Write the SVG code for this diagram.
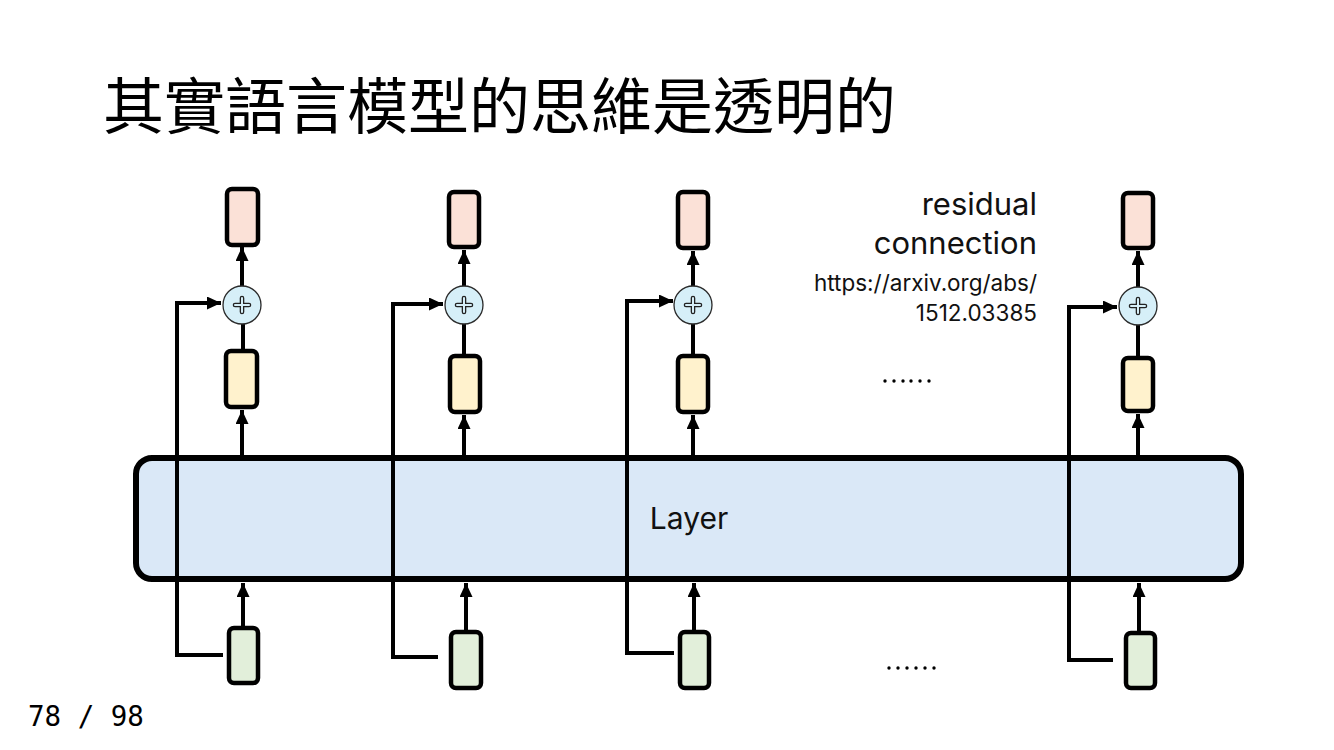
<svg xmlns="http://www.w3.org/2000/svg" width="1334" height="750" viewBox="0 0 1334 750">
<style>
.box{stroke:#000;stroke-width:4.5}
.out{fill:#fbe1d7}
.mid{fill:#fff2cd}
.in{fill:#e2efda}
.plus{fill:#d6eff8;stroke:#2a2a2a;stroke-width:1.3}
.pl1{stroke:#222;stroke-width:4.6;fill:none;stroke-linecap:round}
.pl2{stroke:#d6eff8;stroke-width:2;fill:none;stroke-linecap:round}
.c{stroke:#000;stroke-width:4;fill:none}
.t{font-family:Inter,"Noto Sans",sans-serif;fill:#111}
</style>
<defs>
<marker id="ah" markerUnits="userSpaceOnUse" markerWidth="14" markerHeight="13" refX="14" refY="6.5" orient="auto">
<path d="M0,0 L14,6.5 L0,13 z" fill="#000"/>
</marker>
</defs>
<rect width="1334" height="750" fill="#fff"/>
<text x="103" y="129" font-family="'Noto Sans CJK TC','Noto Sans CJK SC',sans-serif" font-size="61" fill="#000">其實語言模型的思維是透明的</text>

<g id="layer">
<rect x="136" y="458" width="1105" height="121" rx="16" fill="#dae8f7" stroke="#000" stroke-width="6"/>
<text class="t" x="689" y="529" font-size="30" text-anchor="middle">Layer</text>
</g>

<g id="connectors">
<!-- column 1 -->
<path class="c" d="M223,655 H177 V303 H221" marker-end="url(#ah)"/>
<line class="c" x1="242" y1="455" x2="242" y2="410" marker-end="url(#ah)"/>
<line class="c" x1="243" y1="626" x2="243" y2="583" marker-end="url(#ah)"/>
<line class="c" x1="243" y1="349" x2="243" y2="324"/>
<line class="c" x1="242" y1="286" x2="242" y2="247" marker-end="url(#ah)"/>
<!-- column 2 -->
<path class="c" d="M438,657 H393 V304 H443" marker-end="url(#ah)"/>
<line class="c" x1="464" y1="455" x2="464" y2="415" marker-end="url(#ah)"/>
<line class="c" x1="466" y1="630" x2="466" y2="583" marker-end="url(#ah)"/>
<line class="c" x1="464" y1="354" x2="464" y2="324"/>
<line class="c" x1="464" y1="286" x2="464" y2="250" marker-end="url(#ah)"/>
<!-- column 3 -->
<path class="c" d="M674,653 H627 V301 H673" marker-end="url(#ah)"/>
<line class="c" x1="693" y1="455" x2="693" y2="415" marker-end="url(#ah)"/>
<line class="c" x1="694" y1="630" x2="694" y2="583" marker-end="url(#ah)"/>
<line class="c" x1="693" y1="354" x2="693" y2="324"/>
<line class="c" x1="693" y1="286" x2="693" y2="251" marker-end="url(#ah)"/>
<!-- column 4 -->
<path class="c" d="M1113,660 H1069 V307 H1117" marker-end="url(#ah)"/>
<line class="c" x1="1138" y1="455" x2="1138" y2="414" marker-end="url(#ah)"/>
<line class="c" x1="1139" y1="631" x2="1139" y2="583" marker-end="url(#ah)"/>
<line class="c" x1="1138" y1="356" x2="1138" y2="325"/>
<line class="c" x1="1138" y1="287" x2="1138" y2="251" marker-end="url(#ah)"/>
</g>

<g id="col1">
<rect class="box out" x="227" y="189" width="31" height="56" rx="5"/>
<rect class="box mid" x="226" y="351" width="31" height="56" rx="5"/>
<rect class="box in" x="229" y="628" width="29" height="55" rx="5"/>
<circle class="plus" cx="242" cy="305" r="19"/>
<path class="pl1" d="M235,305 H249 M242,298 V312"/>
<path class="pl2" d="M235,305 H249 M242,298 V312"/>
</g>
<g id="col2">
<rect class="box out" x="449" y="192" width="30" height="55" rx="5"/>
<rect class="box mid" x="450" y="356" width="30" height="56" rx="5"/>
<rect class="box in" x="451" y="632" width="30" height="56" rx="5"/>
<circle class="plus" cx="464" cy="305" r="19"/>
<path class="pl1" d="M457,305 H471 M464,298 V312"/>
<path class="pl2" d="M457,305 H471 M464,298 V312"/>
</g>
<g id="col3">
<rect class="box out" x="678" y="192" width="30" height="56" rx="5"/>
<rect class="box mid" x="678" y="356" width="30" height="56" rx="5"/>
<rect class="box in" x="680" y="632" width="29" height="56" rx="5"/>
<circle class="plus" cx="693" cy="305" r="19"/>
<path class="pl1" d="M686,305 H700 M693,298 V312"/>
<path class="pl2" d="M686,305 H700 M693,298 V312"/>
</g>
<g id="col4">
<rect class="box out" x="1123" y="193" width="30" height="55" rx="5"/>
<rect class="box mid" x="1123" y="358" width="30" height="53" rx="5"/>
<rect class="box in" x="1126" y="633" width="29" height="55" rx="5"/>
<circle class="plus" cx="1138" cy="306" r="19"/>
<path class="pl1" d="M1131,306 H1145 M1138,299 V313"/>
<path class="pl2" d="M1131,306 H1145 M1138,299 V313"/>
</g>

<g id="label">
<text class="t" x="1037" y="215" font-size="31" text-anchor="end">residual</text>
<text class="t" x="1037" y="254" font-size="31" text-anchor="end">connection</text>
<text class="t" x="1037" y="291" font-size="22.5" text-anchor="end">https://arxiv.org/abs/</text>
<text class="t" x="1037" y="321" font-size="22.5" text-anchor="end">1512.03385</text>
</g>

<g id="dots" fill="#000">
<circle cx="885" cy="381" r="1.7"/><circle cx="894" cy="381" r="1.7"/><circle cx="903" cy="381" r="1.7"/><circle cx="911" cy="381" r="1.7"/><circle cx="920" cy="381" r="1.7"/><circle cx="929" cy="381" r="1.7"/>
<circle cx="889" cy="668" r="1.7"/><circle cx="898" cy="668" r="1.7"/><circle cx="907" cy="668" r="1.7"/><circle cx="916" cy="668" r="1.7"/><circle cx="925" cy="668" r="1.7"/><circle cx="934" cy="668" r="1.7"/>
</g>

<text x="28" y="726" font-family="'DejaVu Sans Mono',monospace" font-size="27.5" fill="#000">78 / 98</text>
</svg>
